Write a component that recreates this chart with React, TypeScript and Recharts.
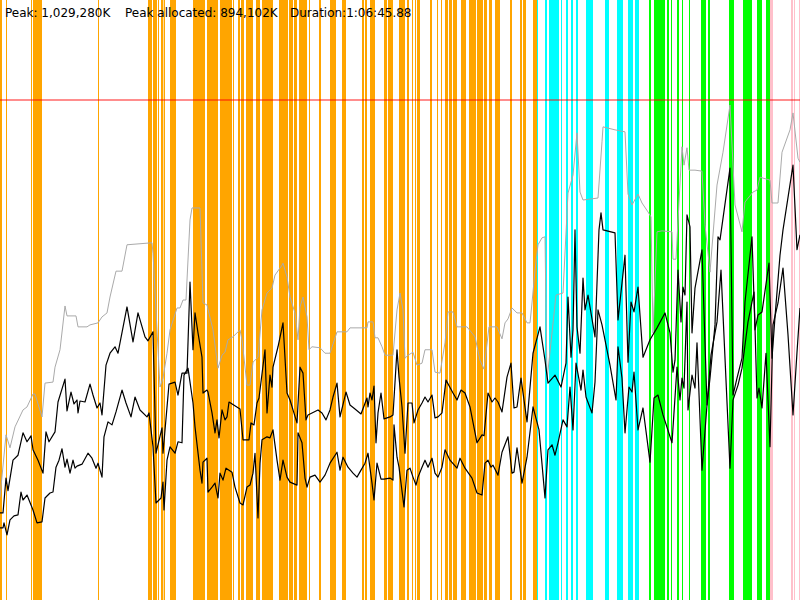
import { ComposedChart, Line, ReferenceArea, ReferenceLine, XAxis, YAxis } from 'recharts';

// time in seconds, memory in MB
const duration = 4000;
const memoryMax = 1206;
const peakMB = 1005;

const headerItems = ['Peak: 1,029,280K', 'Peak allocated: 894,102K', 'Duration:1:06:45.88'];

// vertical phase bands [start s, end s]
const orangeBands = [
  [0, 10], [30, 35], [155, 160], [165, 210], [490, 495], [740, 760], [765, 785], [790, 795],
  [805, 815], [818, 825], [850, 880], [965, 1000], [1000, 1025], [1035, 1090], [1100, 1160],
  [1165, 1170], [1190, 1200], [1205, 1220], [1230, 1265], [1280, 1300], [1310, 1365],
  [1395, 1440], [1445, 1465], [1470, 1485], [1495, 1535], [1545, 1550], [1595, 1605],
  [1650, 1680], [1710, 1730], [1810, 1820], [1825, 1835], [1850, 1875], [1920, 1935],
  [1940, 1965], [1995, 2025], [2035, 2045], [2060, 2065], [2075, 2080], [2085, 2100],
  [2150, 2160], [2185, 2190], [2205, 2210], [2225, 2240], [2245, 2260], [2265, 2285],
  [2305, 2330], [2345, 2380], [2385, 2415], [2420, 2435], [2445, 2460], [2475, 2500],
  [2550, 2560], [2600, 2610], [2615, 2630], [2665, 2685],
];
const cyanBands = [
  [2685, 2690], [2725, 2735], [2745, 2795], [2805, 2810], [2830, 2840], [2855, 2865],
  [2880, 2890], [2930, 2965], [3025, 3045], [3085, 3115], [3140, 3165], [3175, 3195],
];
const greenBands = [
  [3245, 3255], [3270, 3325], [3335, 3345], [3355, 3360], [3385, 3395], [3410, 3415],
  [3445, 3450], [3505, 3530], [3540, 3550], [3645, 3670], [3715, 3760], [3785, 3810],
  [3830, 3850],
];
const pinkBands = [[3850, 3865], [3955, 3965], [3970, 3975], [3995, 4000]];

// heap size (grey)
const heapSamples = [
  [0, 207], [30, 332], [50, 306], [75, 348], [115, 382], [135, 388], [165, 414], [175, 414],
  [210, 368], [225, 436], [265, 438], [275, 468], [300, 503], [325, 591], [335, 571], [380, 571],
  [390, 549], [435, 549], [450, 553], [490, 557], [510, 569], [535, 577], [550, 609], [580, 661],
  [610, 661], [635, 714], [760, 718], [765, 697], [800, 428], [815, 446], [835, 496], [850, 543],
  [885, 587], [900, 587], [915, 603], [930, 603], [950, 764], [960, 788], [1000, 788], [1015, 597],
  [1035, 593], [1065, 543], [1090, 466], [1110, 492], [1125, 498], [1140, 523], [1165, 529],
  [1200, 543], [1210, 523], [1235, 432], [1250, 432], [1265, 478], [1290, 488], [1310, 583],
  [1335, 617], [1360, 627], [1375, 653], [1410, 673], [1415, 677], [1435, 649], [1450, 609],
  [1475, 577], [1490, 523], [1500, 589], [1515, 609], [1535, 569], [1545, 503], [1560, 509],
  [1600, 507], [1625, 496], [1650, 496], [1685, 539], [1735, 539], [1750, 547], [1835, 547],
  [1840, 559], [1865, 559], [1875, 527], [1890, 527], [1910, 509], [1925, 492], [1965, 492],
  [1985, 583], [2000, 617], [2015, 583], [2025, 486], [2040, 492], [2065, 498], [2085, 472],
  [2110, 476], [2125, 503], [2160, 503], [2175, 458], [2200, 456], [2225, 517], [2240, 579],
  [2265, 579], [2285, 549], [2335, 549], [2375, 529], [2400, 482], [2420, 464], [2445, 549],
  [2485, 549], [2510, 525], [2525, 557], [2540, 565], [2560, 587], [2585, 577], [2610, 577],
  [2635, 557], [2650, 557], [2660, 597], [2675, 663], [2690, 714], [2710, 728], [2725, 730],
  [2735, 442], [2780, 613], [2815, 617], [2840, 818], [2865, 854], [2885, 939], [2900, 820],
  [2915, 804], [2990, 808], [3010, 921], [3015, 951], [3075, 945], [3125, 941], [3140, 816],
  [3160, 794], [3190, 816], [3210, 798], [3240, 780], [3255, 770], [3265, 537], [3285, 740],
  [3310, 742], [3360, 740], [3365, 685], [3380, 685], [3395, 800], [3410, 911], [3420, 874],
  [3435, 909], [3445, 864], [3475, 864], [3510, 862], [3525, 754], [3550, 659], [3585, 834],
  [3615, 900], [3650, 995], [3675, 794], [3710, 740], [3725, 800], [3765, 820], [3785, 824],
  [3800, 850], [3815, 848], [3850, 844], [3860, 798], [3890, 798], [3910, 900], [3950, 945],
  [3965, 979], [3990, 888], [4000, 880],
];

// allocated memory (upper black)
const allocatedSamples = [
  [0, 175], [15, 175], [30, 245], [40, 220], [65, 281], [90, 291], [115, 336], [135, 318],
  [155, 330], [165, 302], [190, 281], [215, 255], [230, 338], [245, 318], [275, 338], [290, 398],
  [325, 444], [335, 380], [355, 418], [370, 394], [385, 402], [390, 376], [400, 400], [425, 398],
  [450, 434], [465, 412], [485, 386], [500, 396], [510, 372], [530, 472], [550, 496], [575, 509],
  [590, 496], [635, 589], [665, 519], [690, 577], [725, 529], [740, 521], [765, 539], [780, 295],
  [810, 346], [815, 295], [845, 434], [875, 438], [890, 412], [910, 456], [935, 456], [950, 639],
  [965, 503], [975, 577], [990, 537], [1010, 488], [1015, 416], [1035, 422], [1040, 418],
  [1060, 376], [1075, 336], [1085, 362], [1095, 326], [1110, 382], [1125, 362], [1135, 368],
  [1145, 398], [1200, 384], [1215, 322], [1245, 322], [1255, 356], [1270, 352], [1285, 396],
  [1295, 406], [1325, 503], [1335, 376], [1350, 452], [1360, 428], [1365, 468], [1390, 509],
  [1415, 557], [1435, 416], [1450, 402], [1465, 382], [1485, 356], [1500, 468], [1515, 456],
  [1530, 362], [1540, 372], [1560, 376], [1590, 382], [1610, 376], [1630, 362], [1650, 382],
  [1665, 408], [1685, 436], [1700, 368], [1730, 418], [1750, 392], [1775, 384], [1805, 374],
  [1835, 406], [1840, 388], [1850, 416], [1860, 402], [1870, 430], [1880, 316], [1890, 376],
  [1905, 416], [1920, 364], [1950, 368], [1965, 372], [1985, 503], [1995, 448], [2010, 388],
  [2025, 295], [2040, 396], [2060, 396], [2070, 356], [2090, 382], [2110, 396], [2125, 408],
  [2140, 398], [2160, 412], [2175, 366], [2190, 368], [2210, 376], [2230, 442], [2265, 416],
  [2285, 402], [2305, 422], [2325, 416], [2350, 388], [2385, 316], [2410, 332], [2420, 330],
  [2440, 416], [2460, 398], [2475, 406], [2490, 398], [2510, 378], [2535, 448], [2555, 476],
  [2570, 386], [2585, 388], [2605, 446], [2635, 358], [2665, 496], [2700, 549], [2725, 482],
  [2740, 436], [2775, 452], [2805, 428], [2830, 476], [2840, 609], [2855, 488], [2865, 543],
  [2875, 744], [2885, 549], [2900, 496], [2915, 647], [2925, 583], [2940, 613], [2975, 529],
  [2995, 744], [3005, 778], [3015, 744], [3075, 738], [3090, 563], [3125, 693], [3140, 478],
  [3155, 599], [3170, 579], [3190, 629], [3215, 488], [3250, 523], [3285, 547], [3325, 577],
  [3350, 537], [3365, 458], [3375, 482], [3390, 663], [3405, 559], [3415, 629], [3425, 613],
  [3435, 774], [3450, 750], [3460, 537], [3475, 627], [3510, 704], [3535, 392], [3550, 446],
  [3575, 553], [3590, 730], [3600, 724], [3650, 868], [3665, 412], [3685, 446], [3710, 486],
  [3725, 599], [3760, 730], [3775, 543], [3790, 573], [3810, 579], [3845, 677], [3860, 486],
  [3875, 569], [3900, 693], [3915, 744], [3965, 874], [3985, 704], [4000, 734],
];

// live memory (lower black)
const liveSamples = [
  [0, 145], [15, 145], [20, 155], [35, 131], [50, 161], [70, 169], [90, 171], [105, 217],
  [115, 201], [135, 211], [165, 181], [185, 155], [210, 157], [225, 205], [250, 215], [265, 217],
  [280, 267], [295, 281], [310, 304], [325, 267], [335, 283], [350, 255], [365, 281], [375, 265],
  [385, 269], [410, 273], [440, 295], [460, 285], [480, 265], [490, 275], [510, 247], [520, 328],
  [540, 358], [560, 352], [580, 378], [610, 422], [630, 396], [655, 368], [675, 408], [700, 382],
  [735, 368], [745, 376], [765, 308], [780, 195], [805, 205], [815, 237], [820, 181], [835, 281],
  [850, 308], [875, 295], [890, 318], [910, 316], [920, 452], [940, 466], [965, 396], [975, 348],
  [1000, 261], [1010, 235], [1015, 277], [1035, 285], [1040, 217], [1060, 227], [1075, 235],
  [1090, 205], [1100, 255], [1115, 241], [1130, 265], [1160, 257], [1175, 227], [1200, 195],
  [1215, 191], [1235, 227], [1250, 231], [1265, 255], [1275, 295], [1290, 165], [1300, 275],
  [1310, 322], [1335, 328], [1350, 326], [1365, 342], [1385, 281], [1400, 241], [1415, 281],
  [1435, 247], [1450, 237], [1485, 231], [1490, 336], [1510, 316], [1525, 245], [1535, 227],
  [1550, 247], [1575, 251], [1600, 237], [1625, 251], [1650, 275], [1685, 297], [1700, 261],
  [1715, 287], [1740, 267], [1765, 255], [1785, 247], [1805, 261], [1825, 275], [1840, 295],
  [1860, 235], [1870, 201], [1885, 275], [1905, 243], [1920, 243], [1950, 245], [1965, 241],
  [1970, 352], [1985, 287], [1995, 267], [2020, 187], [2035, 261], [2050, 265], [2065, 247],
  [2080, 231], [2090, 247], [2110, 267], [2125, 281], [2140, 267], [2160, 285], [2175, 255],
  [2190, 247], [2210, 267], [2225, 302], [2250, 281], [2285, 265], [2300, 285], [2325, 265],
  [2360, 245], [2385, 215], [2410, 211], [2425, 275], [2440, 281], [2455, 267], [2465, 271],
  [2490, 251], [2510, 297], [2540, 328], [2560, 255], [2570, 257], [2585, 306], [2610, 235],
  [2635, 287], [2665, 388], [2695, 342], [2725, 205], [2740, 302], [2760, 312], [2775, 291],
  [2790, 316], [2815, 362], [2835, 348], [2850, 428], [2865, 342], [2880, 476], [2905, 422],
  [2915, 462], [2930, 408], [2960, 376], [2975, 438], [2990, 583], [3010, 553], [3050, 472],
  [3080, 402], [3090, 509], [3110, 446], [3125, 336], [3145, 428], [3160, 418], [3170, 458],
  [3190, 342], [3215, 386], [3250, 277], [3270, 406], [3290, 412], [3315, 372], [3360, 316],
  [3385, 468], [3400, 402], [3410, 446], [3420, 426], [3435, 599], [3440, 382], [3460, 452],
  [3475, 426], [3485, 517], [3510, 261], [3535, 392], [3555, 492], [3585, 559], [3605, 663],
  [3650, 265], [3665, 402], [3690, 432], [3710, 466], [3740, 559], [3770, 619], [3785, 406],
  [3795, 426], [3810, 386], [3830, 496], [3850, 308], [3865, 553], [3890, 597], [3915, 667],
  [3940, 533], [3965, 372], [3985, 498], [4000, 587],
];

const toPoints = (samples: number[][]) => samples.map(([t, v]) => ({ t, v }));

const bandGroups = [
  { bands: orangeBands, color: '#ffa500' },
  { bands: cyanBands, color: '#00ffff' },
  { bands: greenBands, color: '#00ff00' },
  { bands: pinkBands, color: '#ffc0cb' },
];

const headerLeft = [5, 125, 290];

const series = [
  { samples: heapSamples, color: '#aaaaaa', width: 1 },
  { samples: allocatedSamples, color: '#000', width: 1.2 },
  { samples: liveSamples, color: '#000', width: 1.2 },
];

export default function App() {
  return (
    <div style={{ position: 'fixed', left: 0, top: 0, width: 800, height: 600, background: '#fff' }}>
      <ComposedChart width={800} height={600} margin={{ top: 0, right: 0, bottom: 0, left: 0 }}>
        <XAxis type="number" dataKey="t" domain={[0, duration]} hide allowDataOverflow />
        <YAxis type="number" domain={[0, memoryMax]} hide allowDataOverflow />
        {bandGroups.map((g) =>
          g.bands.map(([x1, x2], i) => (
            <ReferenceArea
              key={g.color + i}
              x1={x1}
              x2={x2}
              y1={0}
              y2={memoryMax}
              fill={g.color}
              fillOpacity={1}
              stroke="none"
            />
          )),
        )}
        <ReferenceLine y={peakMB} stroke="#ff0000" strokeOpacity={0.6} strokeWidth={1.5} />
        {series.map((s, i) => (
          <Line
            key={i}
            data={toPoints(s.samples)}
            dataKey="v"
            type="linear"
            stroke={s.color}
            strokeWidth={s.width}
            strokeLinejoin="round"
            dot={false}
            activeDot={false}
            isAnimationActive={false}
          />
        ))}
      </ComposedChart>
      {headerItems.map((text, i) => (
        <span
          key={text}
          style={{
            position: 'absolute',
            left: headerLeft[i],
            top: 6,
            font: '12px "DejaVu Sans", sans-serif',
            lineHeight: '14px',
            color: '#000',
            whiteSpace: 'nowrap',
          }}
        >
          {text}
        </span>
      ))}
    </div>
  );
}
